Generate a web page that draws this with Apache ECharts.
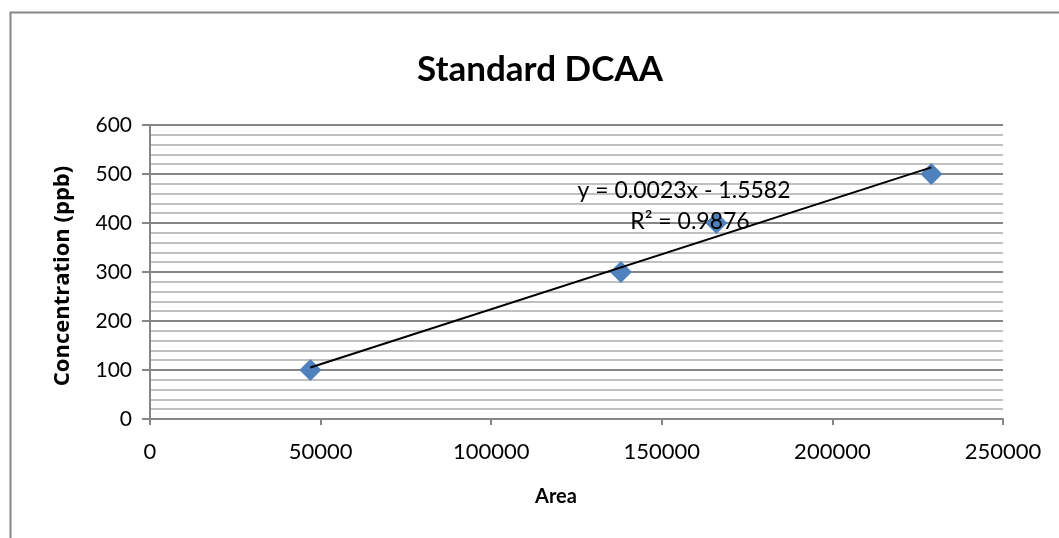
<!DOCTYPE html>
<html><head><meta charset="utf-8">
<script src="https://cdn.jsdelivr.net/npm/echarts@6/dist/echarts.min.js"></script>
<style>html,body{margin:0;padding:0;background:#fff}#c{width:1059px;height:538px}</style>
</head><body><div id="c"></div>
<script>
const areas = [47000, 138000, 166000, 229000];
const concentrations = [100, 300, 400, 500];
const xTicks = [0, 50000, 100000, 150000, 200000, 250000];
const yTicks = [0, 100, 200, 300, 400, 500, 600];
const titleText = 'Standard DCAA';
const xName = 'Area';
const yName = 'Concentration (ppb)';
const eqText = 'y = 0.0023x - 1.5582';
const r2Text = 'R² = 0.9876';

// least-squares trendline through the points (as the spreadsheet draws it)
const n = areas.length;
const mx = areas.reduce((s, v) => s + v, 0) / n;
const my = concentrations.reduce((s, v) => s + v, 0) / n;
let sxy = 0, sxx = 0;
areas.forEach((x, i) => { sxy += (x - mx) * (concentrations[i] - my); sxx += (x - mx) * (x - mx); });
const slope = sxy / sxx, intercept = my - slope * mx;
const trendData = [Math.min(...areas), Math.max(...areas)].map(x => [x, slope * x + intercept]);

const font = 'Lato, "Open Sans", sans-serif';
const chart = echarts.init(document.getElementById('c'));
chart.setOption({
  animation: false,
  graphic: [
    {type: 'rect', shape: {x: 10.5, y: 12.5, width: 1060, height: 540}, style: {fill: 'none', stroke: '#868686', lineWidth: 2}, z: -10},
    {type: 'text', x: 540, y: 70, style: {text: titleText, fontFamily: font, fontSize: 35, fontWeight: 'bold', fill: '#000', textAlign: 'center', textVerticalAlign: 'middle'}},
    {type: 'text', x: 556, y: 497, style: {text: xName, fontFamily: font, fontSize: 20, fontWeight: 'bold', fill: '#000', textAlign: 'center', textVerticalAlign: 'middle'}},
    {type: 'text', x: 63, y: 276, rotation: Math.PI / 2, style: {text: yName, fontFamily: '"Open Sans", sans-serif', fontSize: 22, fontWeight: 'bold', fill: '#000', textAlign: 'center', textVerticalAlign: 'middle'}},
    {type: 'text', x: 684, y: 191, style: {text: eqText, fontFamily: font, fontSize: 23, fill: '#000', textAlign: 'center', textVerticalAlign: 'middle'}, z: 10},
    {type: 'text', x: 690, y: 222, style: {text: r2Text, fontFamily: font, fontSize: 23, fill: '#000', textAlign: 'center', textVerticalAlign: 'middle'}, z: 10}
  ],
  grid: {left: 150, right: 56, top: 125, bottom: 119, containLabel: false},
  xAxis: {type: 'value', min: xTicks[0], max: xTicks[xTicks.length-1], interval: 50000,
    axisLine: {show: true, lineStyle: {color: '#868686', width: 2}},
    axisTick: {show: true, length: 6, lineStyle: {color: '#868686', width: 2}},
    axisLabel: {fontFamily: font, fontSize: 22, color: '#000', margin: 22, formatter: v => String(v)},
    splitLine: {show: false}},
  yAxis: {type: 'value', min: yTicks[0], max: yTicks[yTicks.length-1], interval: 100,
    axisLine: {show: true, lineStyle: {color: '#868686', width: 2}},
    axisTick: {show: true, length: 8, lineStyle: {color: '#868686', width: 2}},
    axisLabel: {fontFamily: font, fontSize: 21, color: '#000', margin: 18, formatter: v => String(v)},
    splitLine: {show: true, lineStyle: {color: '#868686', width: 2}},
    minorTick: {show: false, splitNumber: 5},
    minorSplitLine: {show: true, lineStyle: {color: '#c0c0c0', width: 2}}},
  series: [
    {type: 'line', data: trendData, symbol: 'none', lineStyle: {color: '#000', width: 2}, z: 3},
    {type: 'scatter', data: areas.map((a, i) => [a, concentrations[i]]), symbol: 'diamond', symbolSize: 22,
      itemStyle: {color: '#4f81bd', opacity: 1}, z: 2}
  ]
});
</script></body></html>
